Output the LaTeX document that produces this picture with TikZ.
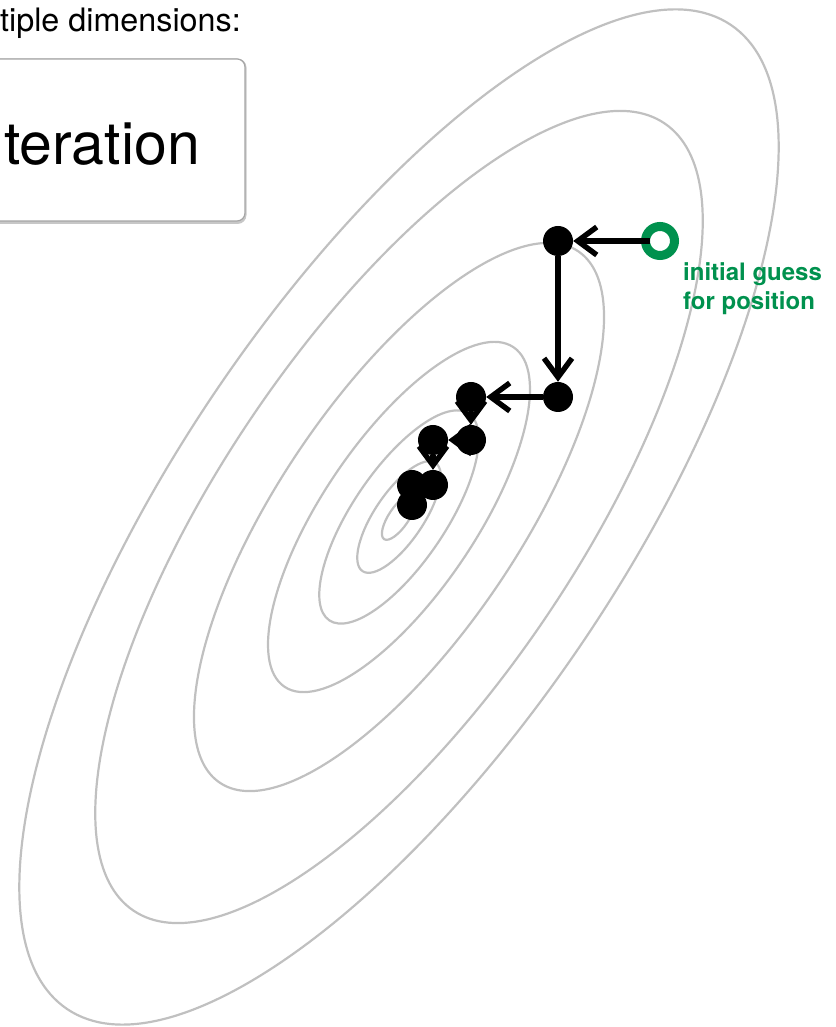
\documentclass[tikz,border=0pt]{standalone}
\usepackage{fontspec}
\setmainfont{TeX Gyre Heros}
\usetikzlibrary{arrows.meta}
\definecolor{ggreen}{RGB}{0,145,78}
\definecolor{contourgray}{RGB}{192,192,192}
\begin{document}
\begin{tikzpicture}[x=1pt,y=1pt,
  contourline/.style={draw=contourgray, line width=2.2pt},
  dot/.style={circle, fill=black, minimum size=30pt, inner sep=0pt},
  startring/.style={circle, draw=ggreen, line width=9pt, fill=white, minimum size=29pt, inner sep=0pt},
  stepline/.style={line width=5.4pt, -{Straight Barb[length=19pt,width=28pt,sharp]}},
  plaintext/.style={inner sep=0pt},
]
\useasboundingbox (0,0) rectangle (835,1027);
\clip (0,0) rectangle (835,1027);
% contours
\coordinate (c) at (399,510);
\foreach \s in {0.045,0.11,0.21,0.345,0.54,0.8,1.0} {
  \draw[contourline, rotate around={56:(c)}] (c) ellipse [x radius=593.5*\s, y radius=222.3*\s];
}
% header text and box
\node[plaintext, anchor=base west, font=\fontsize{32.3}{38}\selectfont] (dims) at (0,995) {tiple dimensions:};
\fill[black!22, rounded corners=9pt] (-20,803) rectangle (246.5,968.5);
\draw[draw=black!35, fill=white, line width=1.2pt, rounded corners=8pt] (-20,806) rectangle (245,968);
\node[plaintext, anchor=base east, font=\fontsize{59}{70}\selectfont] (iter) at (200,862) {teration};
% points
\node[dot] (p1) at (558,786) {};
\node[dot] (p2) at (558,630) {};
\node[dot] (p3) at (471,630) {};
\node[dot] (p4) at (471,587) {};
\node[dot] (p5) at (433,587) {};
\node[dot] (p6) at (433,542) {};
\node[dot] (p7) at (412,542) {};
\node[dot] (p8) at (412,522) {};
\node[startring] (p0) at (660,786) {};
% steps
\draw[stepline, shorten <=-9pt] (p0) -- (p1);
\draw[stepline] (p1) -- (p2);
\draw[stepline] (p2) -- (p3);
\draw[stepline] (p3) -- (p4);
\draw[stepline] (p4) -- (p5);
\draw[stepline] (p5) -- (p6);
% label
\node[plaintext, anchor=base west, text=ggreen, font=\bfseries\fontsize{24}{29}\selectfont] (lbla) at (683,746) {initial guess};
\node[plaintext, anchor=base west, text=ggreen, font=\bfseries\fontsize{24}{29}\selectfont] (lblb) at (683,717) {for position};
\end{tikzpicture}
\end{document}
